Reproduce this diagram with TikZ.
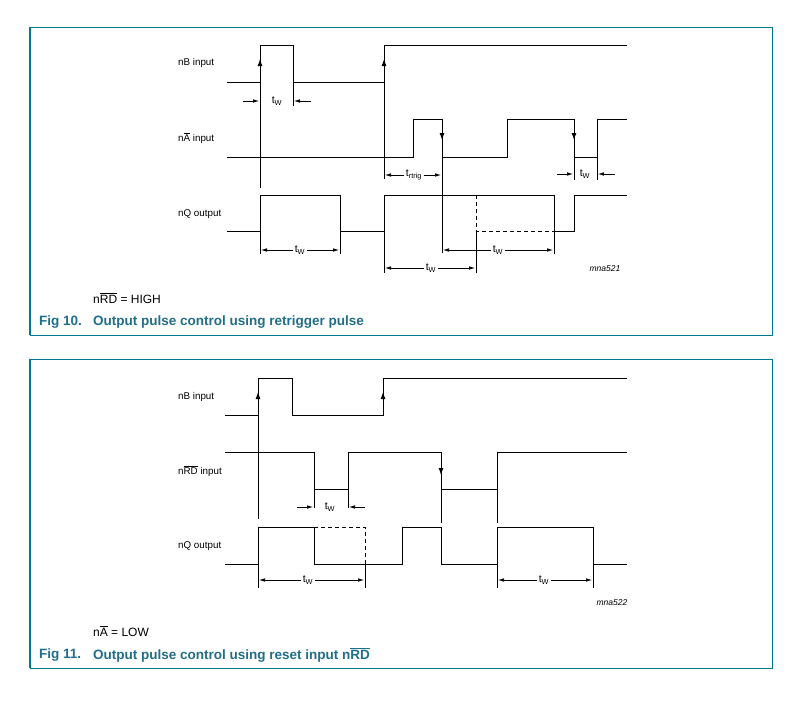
\documentclass[tikz,border=0pt]{standalone}
\usepackage{fontspec}
\setmainfont{Liberation Sans}
\usetikzlibrary{arrows.meta}

\definecolor{frameteal}{HTML}{00798C}
\definecolor{captionteal}{HTML}{1F6E8A}
\newcommand{\tw}{t\textsubscript{W}}
\newcommand{\ovl}[1]{$\overline{\mbox{#1}}$}

\tikzset{
  wave/.style={line width=0.9pt},
  ghost/.style={line width=0.9pt, dash pattern=on 4pt off 3pt},
  guide/.style={line width=0.6pt},
  dimarrow/.style={line width=0.6pt, -{Latex[length=6pt,width=3.5pt]}},
  edgearrow/.style={line width=0.9pt, -{Latex[length=7pt,width=5pt]}},
  siglabel/.style={anchor=west, inner sep=0pt, font=\fontsize{9.8}{11}\selectfont},
  dimlabel/.style={inner sep=1.5pt, font=\fontsize{10.5}{12}\selectfont},
  notelabel/.style={anchor=west, inner sep=0pt, font=\fontsize{12}{14}\selectfont},
  figlabel/.style={anchor=west, inner sep=0pt, text=captionteal, font=\bfseries\fontsize{13.5}{16}\selectfont},
  codelabel/.style={inner sep=0pt, font=\itshape\fontsize{8.5}{10}\selectfont},
  figframe/.style={draw=frameteal, line width=0.9pt}
}

\begin{document}
\begin{tikzpicture}[x=1pt, y=-1pt]
    \useasboundingbox (0,0) rectangle (806,728);

    % Fig 10
    \draw[figframe] (30,27) rectangle (772,335);
    \draw[frameteal, line width=2pt] (30,27) -- (30,335);

    \node (nb1) [siglabel] at (178,63) {nB input};
    \node (na1) [siglabel] at (178,138) {n\ovl{A} input};
    \node (nq1) [siglabel] at (178,214) {nQ output};

    \draw[wave] (227,82) -- (260,82) -- (260,45) -- (293,45) -- (293,82) -- (384,82) -- (384,45) -- (627,45);
    \draw[wave] (227,157) -- (413,157) -- (413,119) -- (442,119) -- (442,157) -- (507,157) -- (507,119)
        -- (574,119) -- (574,157) -- (597,157) -- (597,119) -- (627,119);
    \draw[wave] (227,231) -- (260,231) -- (260,195) -- (340,195) -- (340,231) -- (384,231) -- (384,195)
        -- (554,195) -- (554,231) -- (574,231) -- (574,195) -- (627,195);
    \draw[ghost] (476,195) -- (476,231) -- (554,231);

    \draw[edgearrow] (260,70) -- (260,59);
    \draw[edgearrow] (384,70) -- (384,59);
    \draw[edgearrow] (442,128) -- (442,140);
    \draw[edgearrow] (574,128) -- (574,140);

    \draw[guide] (260,82) -- (260,188);
    \draw[guide] (293,82) -- (293,106);
    \draw[guide] (384,82) -- (384,179);
    \draw[guide] (442,157) -- (442,253);
    \draw[guide] (574,157) -- (574,180);
    \draw[guide] (597,157) -- (597,180);
    \draw[guide] (260,231) -- (260,254);
    \draw[guide] (340,231) -- (340,254);
    \draw[guide] (384,231) -- (384,273);
    \draw[guide] (476,231) -- (476,273);
    \draw[guide] (554,231) -- (554,254);

    \node (tw1) [dimlabel] at (277,101) {\tw};
    \draw[dimarrow] (243,101) -- (259,101);
    \draw[dimarrow] (311,101) -- (294,101);

    \node (trtrig) [dimlabel] at (414,175) {t\textsubscript{rtrig}};
    \draw[dimarrow] (trtrig.west) -- (385,175);
    \draw[dimarrow] (trtrig.east) -- (441,175);

    \node (tw2) [dimlabel] at (585,174) {\tw};
    \draw[dimarrow] (557,174) -- (573,174);
    \draw[dimarrow] (615,174) -- (598,174);

    \node (tw3) [dimlabel] at (300,250) {\tw};
    \draw[dimarrow] (tw3.west) -- (261,250);
    \draw[dimarrow] (tw3.east) -- (339,250);

    \node (tw4) [dimlabel] at (498,250) {\tw};
    \draw[dimarrow] (tw4.west) -- (443,250);
    \draw[dimarrow] (tw4.east) -- (553,250);

    \node (tw5) [dimlabel] at (431,268) {\tw};
    \draw[dimarrow] (tw5.west) -- (385,268);
    \draw[dimarrow] (tw5.east) -- (475,268);

    \node (code1) [codelabel] at (605,269) {mna521};
    \node (note1) [notelabel] at (93,298) {n\ovl{RD} = HIGH};
    \node (fig1) [figlabel] at (39,322) {Fig 10.};
    \node (cap1) [figlabel] at (93,322) {Output pulse control using retrigger pulse};

    % Fig 11
    \draw[figframe] (30,359) rectangle (772,668);
    \draw[frameteal, line width=2pt] (30,359) -- (30,668);

    \node (nb2) [siglabel] at (178,397) {nB input};
    \node (nrd2) [siglabel] at (178,471) {n\ovl{RD} input};
    \node (nq2) [siglabel] at (178,546) {nQ output};

    \draw[wave] (225,415) -- (258,415) -- (258,378) -- (292,378) -- (292,415) -- (383,415) -- (383,378) -- (627,378);
    \draw[wave] (225,452) -- (314,452) -- (314,489) -- (348,489) -- (348,452) -- (441,452) -- (441,489)
        -- (497,489) -- (497,452) -- (627,452);
    \draw[wave] (225,564) -- (258,564) -- (258,527) -- (314,527) -- (314,564) -- (402,564) -- (402,527)
        -- (441,527) -- (441,564) -- (497,564) -- (497,527) -- (593,527) -- (593,564) -- (627,564);
    \draw[ghost] (314,527) -- (365,527) -- (365,564);

    \draw[edgearrow] (258,404) -- (258,392);
    \draw[edgearrow] (383,404) -- (383,392);
    \draw[edgearrow] (441,463) -- (441,475);

    \draw[guide] (258,415) -- (258,519);
    \draw[guide] (314,489) -- (314,508);
    \draw[guide] (348,489) -- (348,508);
    \draw[guide] (441,489) -- (441,523);
    \draw[guide] (497,489) -- (497,523);
    \draw[guide] (258,564) -- (258,588);
    \draw[guide] (365,564) -- (365,588);
    \draw[guide] (497,564) -- (497,588);
    \draw[guide] (593,564) -- (593,588);

    \node (tw6) [dimlabel] at (330,507) {\tw};
    \draw[dimarrow] (297,507) -- (313,507);
    \draw[dimarrow] (365,507) -- (349,507);

    \node (tw7) [dimlabel] at (308,580) {\tw};
    \draw[dimarrow] (tw7.west) -- (259,580);
    \draw[dimarrow] (tw7.east) -- (364,580);

    \node (tw8) [dimlabel] at (544,580) {\tw};
    \draw[dimarrow] (tw8.west) -- (498,580);
    \draw[dimarrow] (tw8.east) -- (592,580);

    \node (code2) [codelabel] at (612,603) {mna522};
    \node (note2) [notelabel] at (93,631) {n\ovl{A} = LOW};
    \node (fig2) [figlabel] at (39,655) {Fig 11.};
    \node (cap2) [figlabel] at (93,655) {Output pulse control using reset input n\ovl{RD}};
\end{tikzpicture}
\end{document}
